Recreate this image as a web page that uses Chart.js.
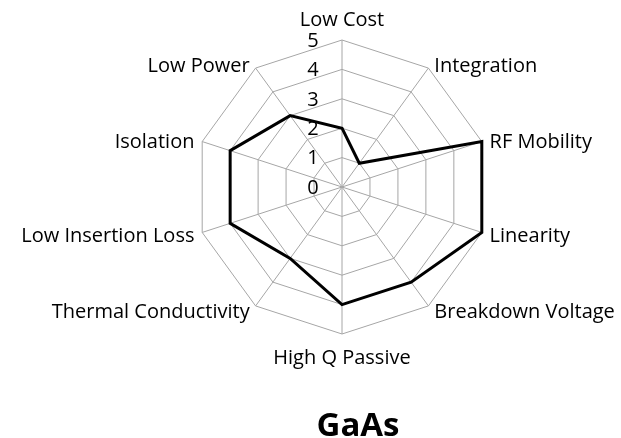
<!DOCTYPE html>
<html>
  <head>
    <meta charset="utf-8">
    <title>GaAs radar</title>
    <script src="https://cdn.jsdelivr.net/npm/chart.js@4.4.0/dist/chart.umd.min.js"></script>
    <style>
      body { margin: 0; background: #fff; overflow: hidden; }
      #wrap { width: 621px; height: 438px; }
    </style>
  </head>
  <body>
    <div id="wrap">
      <canvas id="radar" width="621" height="438"></canvas>
    </div>

    <script type="text/javascript">
    var _labels = ["Low Cost", "Integration", "RF Mobility", "Linearity", "Breakdown Voltage",
                   "High Q Passive", "Thermal Conductivity", "Low Insertion Loss", "Isolation", "Low Power"]
    var _data_gaas = [2, 1, 5, 5, 4, 4, 3, 4, 4, 3]
    var _ticks = [0, 1, 2, 3, 4, 5]
    var _title = "GaAs"

    var fontName = "'Open Sans', sans-serif"
    var gridColor = "#a6a6a6"

    // Excel-style labels: tick numbers left of the vertical axis,
    // category names centred on the spoke ends, title a little right of centre.
    // Positions come from the scale.
    var excelLabels = {
      id: 'excelLabels',
      afterDraw: function(chart) {
        var s = chart.scales.r
        var ctx = chart.ctx
        ctx.save()
        ctx.font = "20px " + fontName
        ctx.fillStyle = "#000"
        ctx.textBaseline = "middle"
        ctx.textAlign = "center"
        _ticks.forEach(function(t) {
          var d = s.getDistanceFromCenterForValue(t)
          ctx.fillText(String(t), s.xCenter - 29, s.yCenter - d + 1)
        })

        ctx.textBaseline = "alphabetic"
        var n = _labels.length
        for (var i = 0; i < n; i++) {
          if (i === 0) {
            var p = s.getPointPosition(i, s.drawingArea + 14)
            ctx.textAlign = "center"
            ctx.fillText(_labels[i], p.x, p.y)
          } else if (i * 2 === n) {
            var p = s.getPointPosition(i, s.drawingArea + 30)
            ctx.textAlign = "center"
            ctx.fillText(_labels[i], p.x, p.y)
          } else {
            var p = s.getPointPosition(i, s.drawingArea + 5)
            var right = i < n / 2
            ctx.textAlign = right ? "left" : "right"
            ctx.fillText(_labels[i], p.x + (right ? 3 : -3), p.y + 8)
          }
        }

        ctx.font = "bold 33px " + fontName
        ctx.textAlign = "center"
        ctx.fillText(_title, s.xCenter + 16, s.yCenter + s.drawingArea + 102)
        ctx.restore()
      }
    }

    var radar = new Chart(document.getElementById("radar"), {
      type: 'radar',
      data: {
        labels: _labels,
        datasets: [
          {
            label: _title,
            data: _data_gaas,
            borderColor: "#000",
            backgroundColor: "transparent",
            borderWidth: 3,
            pointRadius: 0,
            fill: false
          }
        ]
      },
      options: {
        responsive: false,
        animation: false,
        layout: { padding: { left: 63, right: 0, top: 40, bottom: 104 } },
        plugins: {
          legend: { display: false },
          tooltip: { enabled: false },
          title: { display: false }
        },
        scales: {
          r: {
            min: 0,
            max: 5,
            ticks: { stepSize: 1, display: false },
            grid: { color: gridColor, lineWidth: 1 },
            angleLines: { color: gridColor, lineWidth: 1 },
            pointLabels: { display: false }
          }
        }
      },
      plugins: [excelLabels]
    });
    </script>
  </body>
</html>
